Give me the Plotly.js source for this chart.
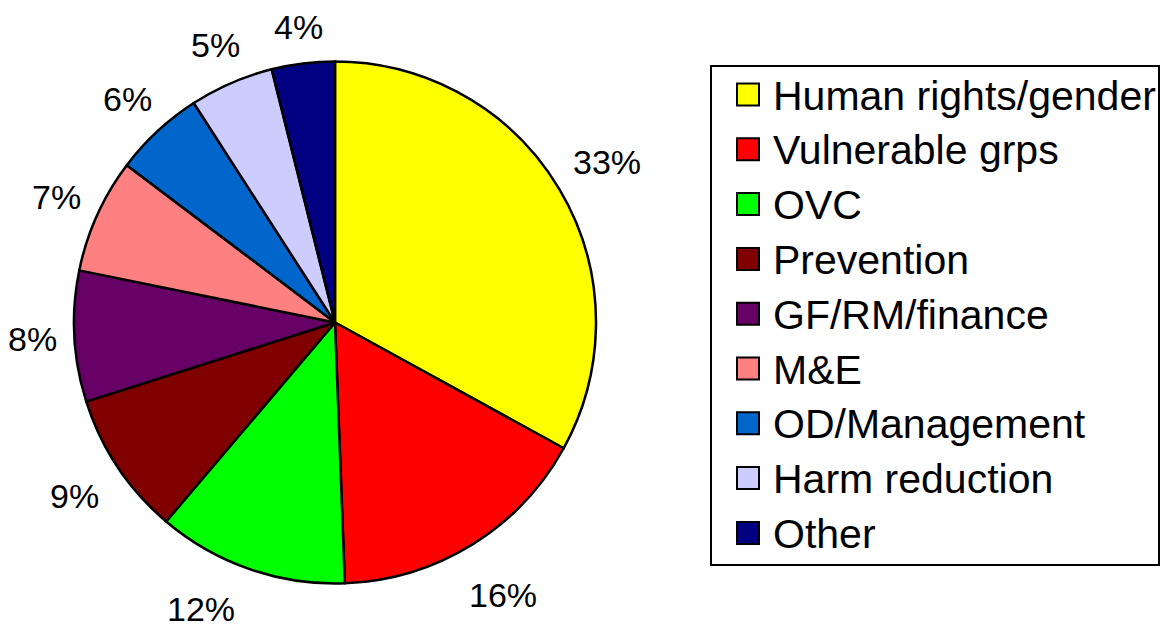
<!DOCTYPE html>
<html>
<head>
<meta charset="utf-8">
<script src="https://cdn.plot.ly/plotly-3.0.1.min.js"></script>
<style>html,body{margin:0;padding:0;background:#fff;}#chart{width:1161px;height:629px;}</style>
</head>
<body>
<div id="chart"></div>
<script>
const categories = ["Human rights/gender", "Vulnerable grps", "OVC", "Prevention", "GF/RM/finance", "M&E", "OD/Management", "Harm reduction", "Other"];
// shares (labels show rounded percentages)
const values = [33.0, 16.4, 11.8, 8.9, 8.1, 7.1, 5.6, 5.2, 3.9];
const colors = ["#FFFF00", "#FF0000", "#00FF00", "#800000", "#660066", "#FF8080", "#0066CC", "#CCCCFF", "#000080"];

const W = 1161, H = 629;
const cx = 335, cy = 322.5, R = 261;
const FONT = "Liberation Sans, Arial, sans-serif";

const data = [{
  type: "pie",
  labels: categories,
  values: values,
  sort: false,
  direction: "clockwise",
  rotation: 0,
  marker: {colors: colors, line: {color: "#000000", width: 2.5}},
  textinfo: "none",
  hoverinfo: "label+percent",
  showlegend: false,
  domain: {x: [(cx - R) / W, (cx + R) / W], y: [(H - cy - R) / H, (H - cy + R) / H]}
}];

// percentage labels outside the pie, positioned from the data
const total = values.reduce((a, b) => a + b, 0);
const annotations = [];
const shapes = [];
let cum = 0;
values.forEach((v, i) => {
  const th = 2 * Math.PI * (cum + v / 2) / total;
  cum += v;
  const sx = Math.sin(th), cu = Math.cos(th);
  const txt = Math.round(v / total * 100) + "%";
  const hw = txt.length > 2 ? 32 : 20;
  const hh = cu >= 0 ? 13 : 25;
  const r = R + 21 + hw * Math.abs(sx) + hh * Math.abs(cu);
  let px = cx + r * sx, py = cy - r * cu;
  const maxY = H - 20;
  if (py > maxY) {
    py = maxY;
    const d = Math.sqrt(Math.max(0, r * r - (py - cy) * (py - cy)));
    px = cx + (sx >= 0 ? d : -d);
  }
  annotations.push({
    x: px / W, y: 1 - py / H, xref: "paper", yref: "paper",
    text: txt, showarrow: false, xanchor: "center", yanchor: "middle",
    height: 30, valign: "middle",
    font: {family: FONT, size: 34, color: "#000"}
  });
});

// legend drawn as layout shapes + text
const legL = 711, legT = 66, legR = 1159, legB = 565;
shapes.push({type: "rect", xref: "paper", yref: "paper",
  x0: legL / W, x1: legR / W, y0: 1 - legB / H, y1: 1 - legT / H,
  line: {color: "#000", width: 2}, fillcolor: "rgba(0,0,0,0)"});
const row0 = 94.5, rowStep = 54.8, sq = 22;
categories.forEach((c, i) => {
  const yc = row0 + i * rowStep;
  shapes.push({type: "rect", xref: "paper", yref: "paper",
    x0: 737 / W, x1: (737 + sq) / W, y0: 1 - (yc + sq / 2) / H, y1: 1 - (yc - sq / 2) / H,
    line: {color: "#000", width: 2}, fillcolor: colors[i]});
  annotations.push({x: 771 / W, y: 1 - (yc + 1) / H, xref: "paper", yref: "paper",
    text: c, showarrow: false, xanchor: "left", yanchor: "middle",
    font: {family: FONT, size: 41, color: "#000"}});
});

const layout = {
  width: W, height: H,
  margin: {l: 0, r: 0, t: 0, b: 0},
  paper_bgcolor: "#fff",
  showlegend: false,
  annotations: annotations,
  shapes: shapes
};
Plotly.newPlot("chart", data, layout, {displayModeBar: false, staticPlot: true});
</script>
</body>
</html>
